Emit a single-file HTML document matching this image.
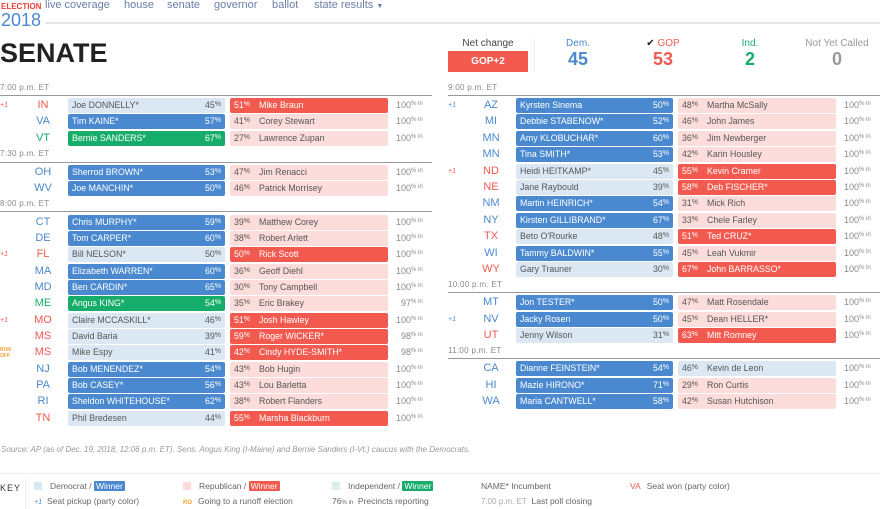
<!DOCTYPE html>
<html><head><meta charset="utf-8">
<style>
*{margin:0;padding:0;box-sizing:border-box}
body{width:880px;height:509px;overflow:hidden;background:#fff;font-family:"Liberation Sans",Arial,sans-serif;position:relative;color:#333}
.a{position:absolute;white-space:nowrap}
.col{position:absolute;top:0;width:436px;height:440px}
.r{position:absolute;left:0;width:436px;height:15px;font-size:8.8px;line-height:15px}
.pk{position:absolute;left:0;font-size:7px;font-style:italic}
.st{position:absolute;left:28px;width:30px;text-align:center;font-size:11px}
.d,.p{position:absolute;top:0;height:15px;border-radius:2px;background:#dbe8f4;color:#555}
.d{left:68px;width:157px}
.p{left:230px;width:158px;background:#fddcdc}
.d .n{position:absolute;left:4px}
.d .v{position:absolute;right:4px}
.p .v{position:absolute;left:4px}
.p .n{position:absolute;left:29px}
.v small{font-size:7px;vertical-align:top;line-height:13px}
.dw{background:#4a89cf;color:#fff}
.iw{background:#16ad6a;color:#fff}
.rw{background:#f25a4f;color:#fff}
.pl{background:#dbe8f4}
.in{position:absolute;left:396px;font-size:9px;color:#888}
.in small{font-size:6px;vertical-align:top;line-height:12px}
.B{color:#4a89cf}.R{color:#f25a4f}.G{color:#16ad6a}.O{color:#f0a030}
.t{position:absolute;left:0;font-size:8px;color:#888;letter-spacing:.3px}
.hl{position:absolute;left:0;width:432px;height:1px;background:#999}
.nav{font-size:11px;color:#6a7fa8}
.kl{font-size:8.5px;color:#666}
.sw{display:inline-block;width:8px;height:8px;vertical-align:-1px;margin-right:8px}
.wb{color:#fff;padding:0 2px;border-radius:1px}
</style></head><body>

<div class="a" style="left:1px;top:2px;font-size:8px;font-weight:bold;color:#e8413a">ELECTION</div>
<div class="a" style="left:1px;top:10px;font-size:18px;color:#4a89cf">2018</div>
<div class="a nav" style="left:45px;top:-1px">live coverage</div>
<div class="a nav" style="left:124px;top:-1px">house</div>
<div class="a nav" style="left:167px;top:-1px">senate</div>
<div class="a nav" style="left:214px;top:-1px">governor</div>
<div class="a nav" style="left:272px;top:-1px">ballot</div>
<div class="a nav" style="left:314px;top:-1px">state results <span style="font-size:7px">▼</span></div>
<div class="a" style="left:45px;top:22px;width:835px;height:2px;background:#e6e6e6"></div>
<div class="a" style="left:0;top:38px;font-size:27px;font-weight:bold;color:#222">SENATE</div>

<div class="a" style="left:448px;top:38px;width:80px;text-align:center;font-size:10px;color:#444">Net change</div>
<div class="a" style="left:448px;top:51px;width:80px;height:21px;background:#f25a4f;color:#fff;font-size:10px;font-weight:bold;text-align:center;line-height:21px">GOP+2</div>
<div class="a" style="left:534px;top:38px;width:1px;height:34px;background:#eee"></div>
<div class="a B" style="left:548px;top:38px;width:60px;text-align:center;font-size:10px">Dem.</div>
<div class="a B" style="left:548px;top:49px;width:60px;text-align:center;font-size:18px;font-weight:bold">45</div>
<div class="a R" style="left:633px;top:38px;width:60px;text-align:center;font-size:10px"><span style="color:#222">✔</span> GOP</div>
<div class="a R" style="left:633px;top:49px;width:60px;text-align:center;font-size:18px;font-weight:bold">53</div>
<div class="a G" style="left:720px;top:38px;width:60px;text-align:center;font-size:10px">Ind.</div>
<div class="a G" style="left:720px;top:49px;width:60px;text-align:center;font-size:18px;font-weight:bold">2</div>
<div class="a" style="left:796px;top:38px;width:82px;text-align:center;font-size:10px;color:#999">Not Yet Called</div>
<div class="a" style="left:796px;top:49px;width:82px;text-align:center;font-size:18px;font-weight:bold;color:#999">0</div>

<!-- LEFT COLUMN -->
<div class="col" style="left:0">
<div class="t" style="top:83px">7:00 p.m. ET</div><div class="hl" style="top:95px"></div>
<div class="r" style="top:98px"><span class="pk R">+1</span><span class="st R">IN</span><div class="d"><span class="n">Joe DONNELLY*</span><span class="v">45<small>%</small></span></div><div class="p rw"><span class="v">51<small>%</small></span><span class="n">Mike Braun</span></div><span class="in">100<small>% in</small></span></div>
<div class="r" style="top:114px"><span class="st B">VA</span><div class="d dw"><span class="n">Tim KAINE*</span><span class="v">57<small>%</small></span></div><div class="p"><span class="v">41<small>%</small></span><span class="n">Corey Stewart</span></div><span class="in">100<small>% in</small></span></div>
<div class="r" style="top:131px"><span class="st G">VT</span><div class="d iw"><span class="n">Bernie SANDERS*</span><span class="v">67<small>%</small></span></div><div class="p"><span class="v">27<small>%</small></span><span class="n">Lawrence Zupan</span></div><span class="in">100<small>% in</small></span></div>
<div class="t" style="top:149px">7:30 p.m. ET</div><div class="hl" style="top:162px"></div>
<div class="r" style="top:165px"><span class="st B">OH</span><div class="d dw"><span class="n">Sherrod BROWN*</span><span class="v">53<small>%</small></span></div><div class="p"><span class="v">47<small>%</small></span><span class="n">Jim Renacci</span></div><span class="in">100<small>% in</small></span></div>
<div class="r" style="top:181px"><span class="st B">WV</span><div class="d dw"><span class="n">Joe MANCHIN*</span><span class="v">50<small>%</small></span></div><div class="p"><span class="v">46<small>%</small></span><span class="n">Patrick Morrisey</span></div><span class="in">100<small>% in</small></span></div>
<div class="t" style="top:199px">8:00 p.m. ET</div><div class="hl" style="top:211px"></div>
<div class="r" style="top:215px"><span class="st B">CT</span><div class="d dw"><span class="n">Chris MURPHY*</span><span class="v">59<small>%</small></span></div><div class="p"><span class="v">39<small>%</small></span><span class="n">Matthew Corey</span></div><span class="in">100<small>% in</small></span></div>
<div class="r" style="top:231px"><span class="st B">DE</span><div class="d dw"><span class="n">Tom CARPER*</span><span class="v">60<small>%</small></span></div><div class="p"><span class="v">38<small>%</small></span><span class="n">Robert Arlett</span></div><span class="in">100<small>% in</small></span></div>
<div class="r" style="top:247px"><span class="pk R">+1</span><span class="st R">FL</span><div class="d"><span class="n">Bill NELSON*</span><span class="v">50<small>%</small></span></div><div class="p rw"><span class="v">50<small>%</small></span><span class="n">Rick Scott</span></div><span class="in">100<small>% in</small></span></div>
<div class="r" style="top:264px"><span class="st B">MA</span><div class="d dw"><span class="n">Elizabeth WARREN*</span><span class="v">60<small>%</small></span></div><div class="p"><span class="v">36<small>%</small></span><span class="n">Geoff Diehl</span></div><span class="in">100<small>% in</small></span></div>
<div class="r" style="top:280px"><span class="st B">MD</span><div class="d dw"><span class="n">Ben CARDIN*</span><span class="v">65<small>%</small></span></div><div class="p"><span class="v">30<small>%</small></span><span class="n">Tony Campbell</span></div><span class="in">100<small>% in</small></span></div>
<div class="r" style="top:296px"><span class="st G">ME</span><div class="d iw"><span class="n">Angus KING*</span><span class="v">54<small>%</small></span></div><div class="p"><span class="v">35<small>%</small></span><span class="n">Eric Brakey</span></div><span class="in">&nbsp;&nbsp;97<small>% in</small></span></div>
<div class="r" style="top:313px"><span class="pk R">+1</span><span class="st R">MO</span><div class="d"><span class="n">Claire MCCASKILL*</span><span class="v">46<small>%</small></span></div><div class="p rw"><span class="v">51<small>%</small></span><span class="n">Josh Hawley</span></div><span class="in">100<small>% in</small></span></div>
<div class="r" style="top:329px"><span class="st R">MS</span><div class="d"><span class="n">David Baria</span><span class="v">39<small>%</small></span></div><div class="p rw"><span class="v">59<small>%</small></span><span class="n">Roger WICKER*</span></div><span class="in">&nbsp;&nbsp;98<small>% in</small></span></div>
<div class="r" style="top:345px"><span class="pk O" style="font-size:5px;line-height:6px;top:2px;font-weight:bold;font-style:normal">RUN<br>OFF</span><span class="st R">MS</span><div class="d"><span class="n">Mike Espy</span><span class="v">41<small>%</small></span></div><div class="p rw"><span class="v">42<small>%</small></span><span class="n">Cindy HYDE-SMITH*</span></div><span class="in">&nbsp;&nbsp;98<small>% in</small></span></div>
<div class="r" style="top:362px"><span class="st B">NJ</span><div class="d dw"><span class="n">Bob MENENDEZ*</span><span class="v">54<small>%</small></span></div><div class="p"><span class="v">43<small>%</small></span><span class="n">Bob Hugin</span></div><span class="in">100<small>% in</small></span></div>
<div class="r" style="top:378px"><span class="st B">PA</span><div class="d dw"><span class="n">Bob CASEY*</span><span class="v">56<small>%</small></span></div><div class="p"><span class="v">43<small>%</small></span><span class="n">Lou Barletta</span></div><span class="in">100<small>% in</small></span></div>
<div class="r" style="top:394px"><span class="st B">RI</span><div class="d dw"><span class="n">Sheldon WHITEHOUSE*</span><span class="v">62<small>%</small></span></div><div class="p"><span class="v">38<small>%</small></span><span class="n">Robert Flanders</span></div><span class="in">100<small>% in</small></span></div>
<div class="r" style="top:411px"><span class="st R">TN</span><div class="d"><span class="n">Phil Bredesen</span><span class="v">44<small>%</small></span></div><div class="p rw"><span class="v">55<small>%</small></span><span class="n">Marsha Blackburn</span></div><span class="in">100<small>% in</small></span></div>
</div>

<!-- RIGHT COLUMN -->
<div class="col" style="left:448px">
<div class="t" style="top:83px">9:00 p.m. ET</div><div class="hl" style="top:95px"></div>
<div class="r" style="top:98px"><span class="pk B">+1</span><span class="st B">AZ</span><div class="d dw"><span class="n">Kyrsten Sinema</span><span class="v">50<small>%</small></span></div><div class="p"><span class="v">48<small>%</small></span><span class="n">Martha McSally</span></div><span class="in">100<small>% in</small></span></div>
<div class="r" style="top:114px"><span class="st B">MI</span><div class="d dw"><span class="n">Debbie STABENOW*</span><span class="v">52<small>%</small></span></div><div class="p"><span class="v">46<small>%</small></span><span class="n">John James</span></div><span class="in">100<small>% in</small></span></div>
<div class="r" style="top:131px"><span class="st B">MN</span><div class="d dw"><span class="n">Amy KLOBUCHAR*</span><span class="v">60<small>%</small></span></div><div class="p"><span class="v">36<small>%</small></span><span class="n">Jim Newberger</span></div><span class="in">100<small>% in</small></span></div>
<div class="r" style="top:147px"><span class="st B">MN</span><div class="d dw"><span class="n">Tina SMITH*</span><span class="v">53<small>%</small></span></div><div class="p"><span class="v">42<small>%</small></span><span class="n">Karin Housley</span></div><span class="in">100<small>% in</small></span></div>
<div class="r" style="top:164px"><span class="pk R">+1</span><span class="st R">ND</span><div class="d"><span class="n">Heidi HEITKAMP*</span><span class="v">45<small>%</small></span></div><div class="p rw"><span class="v">55<small>%</small></span><span class="n">Kevin Cramer</span></div><span class="in">100<small>% in</small></span></div>
<div class="r" style="top:180px"><span class="st R">NE</span><div class="d"><span class="n">Jane Raybould</span><span class="v">39<small>%</small></span></div><div class="p rw"><span class="v">58<small>%</small></span><span class="n">Deb FISCHER*</span></div><span class="in">100<small>% in</small></span></div>
<div class="r" style="top:196px"><span class="st B">NM</span><div class="d dw"><span class="n">Martin HEINRICH*</span><span class="v">54<small>%</small></span></div><div class="p"><span class="v">31<small>%</small></span><span class="n">Mick Rich</span></div><span class="in">100<small>% in</small></span></div>
<div class="r" style="top:213px"><span class="st B">NY</span><div class="d dw"><span class="n">Kirsten GILLIBRAND*</span><span class="v">67<small>%</small></span></div><div class="p"><span class="v">33<small>%</small></span><span class="n">Chele Farley</span></div><span class="in">100<small>% in</small></span></div>
<div class="r" style="top:229px"><span class="st R">TX</span><div class="d"><span class="n">Beto O'Rourke</span><span class="v">48<small>%</small></span></div><div class="p rw"><span class="v">51<small>%</small></span><span class="n">Ted CRUZ*</span></div><span class="in">100<small>% in</small></span></div>
<div class="r" style="top:246px"><span class="st B">WI</span><div class="d dw"><span class="n">Tammy BALDWIN*</span><span class="v">55<small>%</small></span></div><div class="p"><span class="v">45<small>%</small></span><span class="n">Leah Vukmir</span></div><span class="in">100<small>% in</small></span></div>
<div class="r" style="top:262px"><span class="st R">WY</span><div class="d"><span class="n">Gary Trauner</span><span class="v">30<small>%</small></span></div><div class="p rw"><span class="v">67<small>%</small></span><span class="n">John BARRASSO*</span></div><span class="in">100<small>% in</small></span></div>
<div class="t" style="top:280px">10:00 p.m. ET</div><div class="hl" style="top:292px"></div>
<div class="r" style="top:295px"><span class="st B">MT</span><div class="d dw"><span class="n">Jon TESTER*</span><span class="v">50<small>%</small></span></div><div class="p"><span class="v">47<small>%</small></span><span class="n">Matt Rosendale</span></div><span class="in">100<small>% in</small></span></div>
<div class="r" style="top:312px"><span class="pk B">+1</span><span class="st B">NV</span><div class="d dw"><span class="n">Jacky Rosen</span><span class="v">50<small>%</small></span></div><div class="p"><span class="v">45<small>%</small></span><span class="n">Dean HELLER*</span></div><span class="in">100<small>% in</small></span></div>
<div class="r" style="top:328px"><span class="st R">UT</span><div class="d"><span class="n">Jenny Wilson</span><span class="v">31<small>%</small></span></div><div class="p rw"><span class="v">63<small>%</small></span><span class="n">Mitt Romney</span></div><span class="in">100<small>% in</small></span></div>
<div class="t" style="top:346px">11:00 p.m. ET</div><div class="hl" style="top:358px"></div>
<div class="r" style="top:361px"><span class="st B">CA</span><div class="d dw"><span class="n">Dianne FEINSTEIN*</span><span class="v">54<small>%</small></span></div><div class="p pl"><span class="v">46<small>%</small></span><span class="n">Kevin de Leon</span></div><span class="in">100<small>% in</small></span></div>
<div class="r" style="top:378px"><span class="st B">HI</span><div class="d dw"><span class="n">Mazie HIRONO*</span><span class="v">71<small>%</small></span></div><div class="p"><span class="v">29<small>%</small></span><span class="n">Ron Curtis</span></div><span class="in">100<small>% in</small></span></div>
<div class="r" style="top:394px"><span class="st B">WA</span><div class="d dw"><span class="n">Maria CANTWELL*</span><span class="v">58<small>%</small></span></div><div class="p"><span class="v">42<small>%</small></span><span class="n">Susan Hutchison</span></div><span class="in">100<small>% in</small></span></div>
</div>

<div class="a" style="left:1px;top:445px;font-size:8px;font-style:italic;color:#999">Source: AP (as of Dec. 19, 2018, 12:06 p.m. ET). Sens. Angus King (I-Maine) and Bernie Sanders (I-Vt.) caucus with the Democrats.</div>
<div class="a" style="left:0;top:473px;width:880px;height:1px;background:#eee"></div>
<div class="a" style="left:0;top:483px;font-size:9px;color:#333;letter-spacing:1px">KEY</div>
<div class="a" style="left:25px;top:478px;width:1px;height:31px;background:#eee"></div>
<div class="a kl" style="left:34px;top:481px"><span class="sw" style="background:#dbe8f4"></span>Democrat / <span class="wb" style="background:#4a89cf">Winner</span></div>
<div class="a kl" style="left:34px;top:496px"><span class="B" style="font-size:7px;font-style:italic;margin-right:5px">+1</span>Seat pickup (party color)</div>
<div class="a kl" style="left:183px;top:481px"><span class="sw" style="background:#fddcdc"></span>Republican / <span class="wb" style="background:#f25a4f">Winner</span></div>
<div class="a kl" style="left:183px;top:496px"><span class="O" style="font-size:6px;font-weight:bold;margin-right:6px">RO</span>Going to a runoff election</div>
<div class="a kl" style="left:332px;top:481px"><span class="sw" style="background:#d9f0e4"></span>Independent / <span class="wb" style="background:#16ad6a">Winner</span></div>
<div class="a kl" style="left:332px;top:496px">76<span style="font-size:6px">% in</span>&nbsp; Precincts reporting</div>
<div class="a kl" style="left:481px;top:481px">NAME* Incumbent</div>
<div class="a kl" style="left:481px;top:496px"><span style="color:#aaa;font-size:8px">7:00 p.m. ET</span>&nbsp; Last poll closing</div>
<div class="a kl" style="left:630px;top:481px"><span class="R" style="margin-right:6px">VA</span>Seat won (party color)</div>
</body></html>
